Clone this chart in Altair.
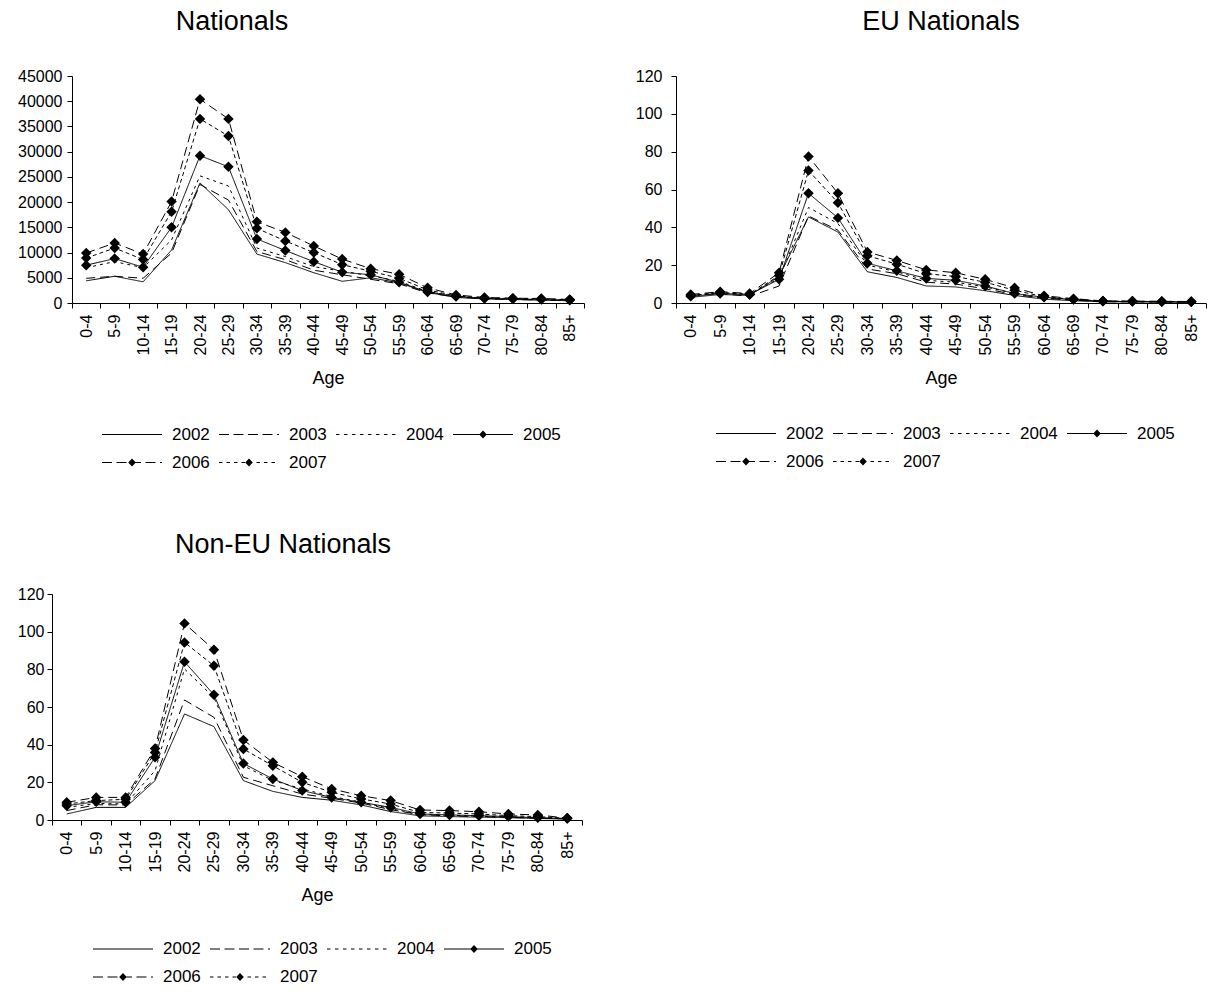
import altair as alt
import pandas as pd

ages = ["0-4", "5-9", "10-14", "15-19", "20-24", "25-29", "30-34", "35-39", "40-44",
        "45-49", "50-54", "55-59", "60-64", "65-69", "70-74", "75-79", "80-84", "85+"]
years = ["2002", "2003", "2004", "2005", "2006", "2007"]
marker_years = ["2005", "2006", "2007"]

# Nationals
nat_2002 = [4400, 5300, 4200, 10500, 23800, 18500, 9700, 8000, 6000, 4300, 5000, 4000, 2100, 1100, 800, 700, 550, 450]
nat_2003 = [4900, 5300, 4900, 9900, 23500, 20400, 10200, 8600, 6500, 5600, 4700, 3800, 2000, 1200, 850, 700, 600, 500]
nat_2004 = [7000, 8200, 7000, 12500, 25200, 23200, 10900, 9200, 7200, 6300, 5400, 4300, 2300, 1300, 900, 750, 650, 500]
nat_2005 = [7500, 8800, 7100, 15000, 29200, 27000, 12700, 10400, 8200, 6100, 5600, 4100, 2200, 1300, 900, 800, 700, 550]
nat_2006 = [9900, 11900, 9700, 20100, 40400, 36500, 16100, 14000, 11300, 8700, 6800, 5700, 3000, 1600, 1100, 950, 900, 700]
nat_2007 = [8900, 10900, 8600, 18100, 36500, 33100, 14800, 12300, 10000, 7600, 6300, 4900, 2600, 1400, 1000, 900, 800, 650]

# EU Nationals
eu_2002 = [3, 4.5, 4, 14, 45.5, 37.5, 16.5, 13.5, 9, 8.5, 6.5, 4, 2, 1.2, 0.6, 0.6, 0.5, 0.4]
eu_2003 = [4, 5, 3.5, 9, 46, 38.5, 18, 15.5, 11, 10, 7.5, 4.5, 2.5, 1.5, 0.7, 0.6, 0.5, 0.4]
eu_2004 = [4, 5.5, 4.5, 13, 50.5, 42, 20, 16.5, 12, 11, 8.5, 5, 2.8, 1.6, 0.8, 0.7, 0.6, 0.5]
eu_2005 = [3.5, 5, 4.5, 12.5, 58, 45, 21, 17, 13, 12, 9, 5, 3, 1.8, 0.9, 0.8, 0.7, 0.6]
eu_2006 = [4.5, 6, 5, 16, 77.5, 58, 27, 22.5, 17.5, 16, 12.5, 8, 3.8, 2.3, 1.1, 1, 0.9, 0.8]
eu_2007 = [4, 5.5, 4.5, 14.5, 70, 53, 25, 20.5, 15.5, 14, 11, 6.7, 3.3, 2, 1, 0.9, 0.8, 0.7]

# Non-EU Nationals
ne_2002 = [3.2, 6.7, 6.7, 20.9, 56.3, 49.6, 20.9, 15.2, 12, 10.5, 8, 4.5, 2.2, 1.8, 1.5, 1.2, 0.8, 0.5]
ne_2003 = [5, 8.1, 8, 21.8, 63.7, 54.5, 22.7, 18.2, 13.8, 11.5, 9, 5.5, 2.8, 2.2, 1.8, 1.4, 1, 0.6]
ne_2004 = [6.7, 8.8, 8.5, 26.2, 80.2, 65, 28.8, 21, 16.5, 12.5, 9.5, 6, 3, 2.5, 2, 1.6, 1.1, 0.7]
ne_2005 = [7.6, 9.7, 9.4, 33.3, 84, 66.5, 30, 21.8, 15.6, 12, 9.4, 6.7, 3.2, 2.7, 2.3, 1.8, 1.2, 0.8]
ne_2006 = [9.4, 12, 12, 38, 104.4, 90.4, 42.5, 30.6, 23, 16.5, 12.9, 10.3, 5.3, 5, 4.4, 3.2, 2.7, 1]
ne_2007 = [8.5, 10.3, 11, 35.9, 94.3, 81.9, 37.7, 28.8, 20, 14.7, 11.2, 8.5, 4, 3.7, 3.2, 2.3, 1.8, 0.9]

FONT = "Liberation Sans"
dash_range = [[1, 0], [9, 5], [3, 4], [1, 0], [9, 5], [4, 3]]
legend_dash = [None, [10, 4.5], [3.5, 4.5], None, [10, 4.5], [3.5, 4]]

# Legend glyph geometry (style only): a 60px line, drawn as filled dashes,
# with a diamond in the middle for the years that carry markers.
SYM_SIZE = 784          # sqrt(784)/2 = 14 px per path unit
UNIT = 14.0
SYM_W = 60.0


def legend_glyph(pattern, diamond):
    t = 0.55 / UNIT
    segs = []
    if pattern is None:
        segs.append((0.0, SYM_W))
    else:
        x = 0.0
        while x < SYM_W:
            segs.append((x, min(x + pattern[0], SYM_W)))
            x += pattern[0] + pattern[1]
    parts = []
    for a, b in segs:
        u0 = a / UNIT - SYM_W / (2 * UNIT)
        u1 = b / UNIT - SYM_W / (2 * UNIT)
        parts.append(f"M{u0:.3f},{-t:.3f}L{u1:.3f},{-t:.3f}L{u1:.3f},{t:.3f}L{u0:.3f},{t:.3f}Z")
    if diamond:
        parts.append("M0,-0.29L0.27,0L0,0.29L-0.27,0Z")
    return "".join(parts)


shape_range = [legend_glyph(p, y in marker_years) for p, y in zip(legend_dash, years)]


def make_df(series):
    rows = []
    for y, vals in zip(years, series):
        for i, (a, v) in enumerate(zip(ages, vals)):
            rows.append({"age": a, "idx": i, "year": y, "value": v})
    return pd.DataFrame(rows)


def panel(series, title, ymax, ystep, width, height, title_dx, title_offset,
          lx, ly, ylabel_pad, shift=0):
    df = make_df(series)
    shape_scale = alt.Scale(domain=years, range=shape_range)
    legend = alt.Legend(
        orient="none", legendX=lx, legendY=ly, columns=4, direction="horizontal",
        title=None, symbolSize=SYM_SIZE, symbolStrokeWidth=0,
        symbolStrokeColor="transparent", symbolFillColor="black", symbolOpacity=1,
        symbolOffset=16, labelFontSize=17, labelFont=FONT, labelColor="black",
        labelOffset=26, rowPadding=6, columnPadding=8, padding=0,
    )
    xscale = alt.Scale(type="band", paddingInner=0, paddingOuter=0)
    if shift:
        xscale = alt.Scale(type="band", paddingInner=0, paddingOuter=0,
                           range=[-shift, width - shift])
    yaxis_kw = dict(title=None, values=list(range(0, ymax + 1, ystep)),
                    format="d", labelPadding=ylabel_pad)
    if shift:
        yaxis_kw["offset"] = shift
    base = alt.Chart(df).encode(
        x=alt.X("age:N", sort=ages, scale=xscale,
                axis=alt.Axis(title="Age", labelAngle=270, tickBand="extent",
                              labelPadding=6, titlePadding=15)),
        y=alt.Y("value:Q", scale=alt.Scale(domain=[0, ymax], nice=False, zero=True),
                axis=alt.Axis(**yaxis_kw)),
        order=alt.Order("idx:Q"),
    )
    line_layers = [
        base.transform_filter(alt.datum.year == yr).mark_line(
            color="black", strokeWidth=1, strokeDash=dash
        )
        for yr, dash in zip(years, dash_range)
    ]
    markers = base.transform_filter(
        alt.FieldOneOfPredicate(field="year", oneOf=marker_years)
    ).mark_point(shape="diamond", filled=True, color="black", size=110, opacity=1)
    legend_layer = base.mark_point(
        filled=True, fill="black", strokeWidth=0, opacity=0
    ).encode(
        shape=alt.Shape("year:N", scale=shape_scale, legend=legend),
    )
    return alt.layer(*line_layers, markers, legend_layer).properties(
        width=width, height=height,
        title=alt.TitleParams(title, fontSize=27, font=FONT, fontWeight="normal",
                              anchor="middle", dx=title_dx, offset=title_offset,
                              color="black"),
    )


p1 = panel([nat_2002, nat_2003, nat_2004, nat_2005, nat_2006, nat_2007],
           "Nationals", 45000, 5000, 512, 227, -96, 32, 30, 344.5, 5)
p2 = panel([eu_2002, eu_2003, eu_2004, eu_2005, eu_2006, eu_2007],
           "EU Nationals", 120, 20, 530, 227, 0, 32, 40, 343.5, 9)
p3 = panel([ne_2002, ne_2003, ne_2004, ne_2005, ne_2006, ne_2007],
           "Non-EU Nationals", 120, 20, 530, 226, -54, 27, 21, 341, 3, shift=20)

top = alt.hconcat(p1, p2, spacing=50).resolve_scale(shape="independent")
bottom = alt.hconcat(p3).resolve_scale(shape="independent")
chart = alt.concat(top, bottom, columns=1, spacing=60, align="none").resolve_scale(
    shape="independent"
).properties(
    padding={"left": 17, "top": 8, "right": 0, "bottom": 0}
).configure(
    font=FONT, view=alt.ViewConfig(strokeWidth=0, stroke="transparent")
).configure_axis(
    grid=False, domainColor="black", tickColor="black", labelColor="black",
    titleColor="black", labelFontSize=16, titleFontSize=18, titleFontWeight="normal",
    tickSize=5, labelFont=FONT, titleFont=FONT, domainWidth=1, tickWidth=1,
)

chart.save("out.html", embed_options={"renderer": "svg", "actions": False})
